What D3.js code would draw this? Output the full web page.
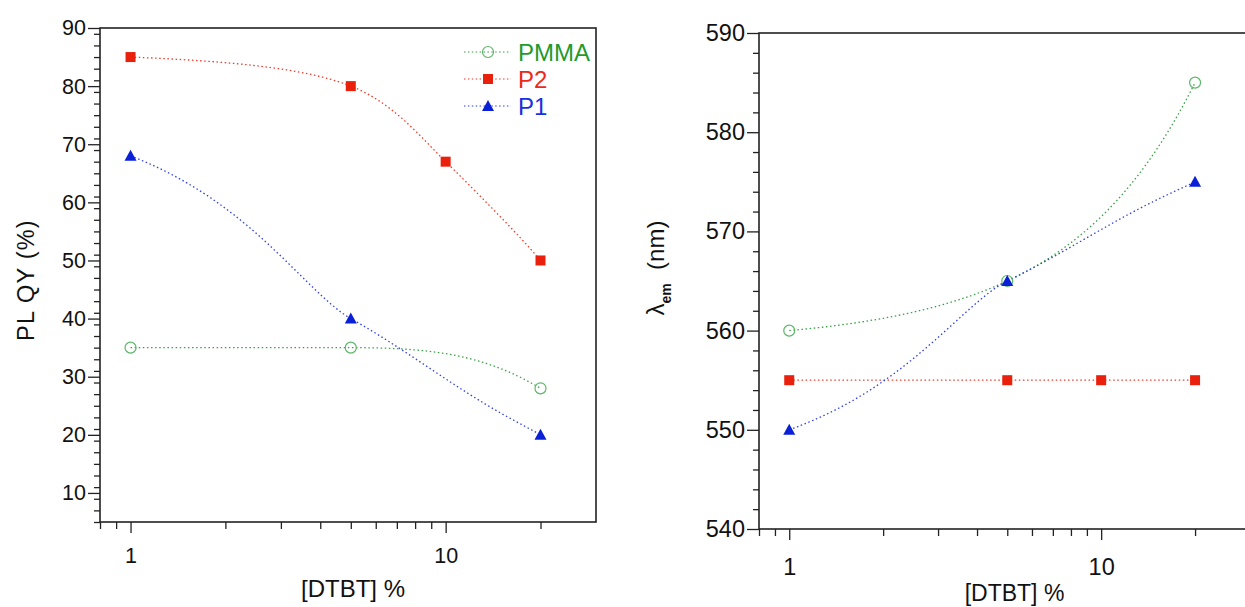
<!DOCTYPE html>
<html><head><meta charset="utf-8">
<script src="https://cdn.jsdelivr.net/npm/d3@7"></script>
<style>body{margin:0;background:#fff}svg{display:block}text{font-family:"Liberation Sans",Arial,sans-serif}</style>
</head><body>
<svg id="c" width="1245" height="607"></svg>
<script>
// ---- data ----
const seriesNames = ["PMMA", "P2", "P1"];
const qyPMMA_x = [1, 5, 20];       const qyPMMA_y = [35, 35, 28];
const qyP2_x   = [1, 5, 10, 20];   const qyP2_y   = [85, 80, 67, 50];
const qyP1_x   = [1, 5, 20];       const qyP1_y   = [68, 40, 20];
const emPMMA_x = [1, 5, 20];       const emPMMA_y = [560, 565, 585];
const emP2_x   = [1, 5, 10, 20];   const emP2_y   = [555, 555, 555, 555];
const emP1_x   = [1, 5, 20];       const emP1_y   = [550, 565, 575];
const xTickLabels = [1, 10];
const qyYTicks = [10, 20, 30, 40, 50, 60, 70, 80, 90];
const emYTicks = [540, 550, 560, 570, 580, 590];

const colors = {PMMA: {line: "#3aa048", mark: "#5cb868", text: "#1f9a2e"},
                P2: {line: "#f03a2a", mark: "#e8200c", text: "#ec2a16"},
                P1: {line: "#3040e8", mark: "#0a20d8", text: "#1a30e0"}};

const svg = d3.select("#c");
const zip = (xs, ys) => xs.map((x, i) => ({x, y: ys[i]}));

// monotone cubic (same rule as d3.curveMonotoneX) evaluated in linear data-x space
function smoothPoints(pts, n) {
  const k = pts.length, m = new Array(k);
  const sl = i => (pts[i + 1].y - pts[i].y) / (pts[i + 1].x - pts[i].x);
  for (let i = 1; i < k - 1; i++) {
    const h0 = pts[i].x - pts[i - 1].x, h1 = pts[i + 1].x - pts[i].x;
    const s0 = sl(i - 1), s1 = sl(i);
    const p = (s0 * h1 + s1 * h0) / (h0 + h1);
    m[i] = (Math.sign(s0) + Math.sign(s1)) * Math.min(Math.abs(s0), Math.abs(s1), 0.5 * Math.abs(p)) || 0;
  }
  if (k === 2) { m[0] = m[1] = sl(0); }
  else {
    m[0] = (3 * sl(0) - m[1]) / 2;
    m[k - 1] = (3 * sl(k - 2) - m[k - 2]) / 2;
  }
  const out = [];
  for (let i = 0; i < k - 1; i++) {
    const a = pts[i], b = pts[i + 1], h = b.x - a.x;
    for (let j = 0; j <= n; j++) {
      if (i > 0 && j === 0) continue;
      const t = j / n, t2 = t * t, t3 = t2 * t;
      const y = (2*t3 - 3*t2 + 1) * a.y + (t3 - 2*t2 + t) * h * m[i] + (-2*t3 + 3*t2) * b.y + (t3 - t2) * h * m[i + 1];
      out.push({x: a.x + t * h, y});
    }
  }
  return out;
}

function styleText(sel, size) {
  return sel.attr("font-size", size).attr("fill", "#111")
    .attr("font-family", '"Liberation Sans", Arial, sans-serif');
}

function panel(opt) {
  const g = svg.append("g");
  const x = d3.scaleLog().domain([0.8, 30]).range([opt.left, opt.right]);
  const y = d3.scaleLinear().domain(opt.yDomain).range([opt.bottom, opt.top]);
  g.append("rect").attr("x", opt.left).attr("y", opt.top)
    .attr("width", opt.right - opt.left).attr("height", opt.bottom - opt.top)
    .attr("fill", "none").attr("stroke", "#222").attr("stroke-width", 1.6);
  const minorY = d3.range(opt.yDomain[0], opt.yDomain[1] + 0.01, 2).filter(v => v % 10 !== 0);
  g.append("g").attr("transform", `translate(${opt.left},0)`)
    .call(d3.axisLeft(y).tickValues(minorY).tickSize(6).tickFormat(""))
    .call(a => a.select(".domain").remove())
    .call(a => a.selectAll("line").attr("stroke", "#222").attr("stroke-width", 1.3));
  g.append("g").attr("transform", `translate(${opt.left},0)`)
    .call(d3.axisLeft(y).tickValues(opt.yTicks).tickSize(12).tickPadding(2).tickFormat(d3.format("d")))
    .call(a => a.select(".domain").remove())
    .call(a => a.selectAll("line").attr("stroke", "#222").attr("stroke-width", 1.3))
    .call(a => styleText(a.selectAll("text"), opt.tickFont));
  const minorX = [0.8, 0.9, 2, 3, 4, 5, 6, 7, 8, 9, 20];
  g.append("g").attr("transform", `translate(0,${opt.bottom})`)
    .call(d3.axisBottom(x).tickValues(minorX).tickSize(7).tickFormat(""))
    .call(a => a.select(".domain").remove())
    .call(a => a.selectAll("line").attr("stroke", "#222").attr("stroke-width", 1.3));
  g.append("g").attr("transform", `translate(0,${opt.bottom})`)
    .call(d3.axisBottom(x).tickValues(xTickLabels).tickSize(11).tickPadding(opt.xPad).tickFormat(d3.format("d")))
    .call(a => a.select(".domain").remove())
    .call(a => a.selectAll("line").attr("stroke", "#222").attr("stroke-width", 1.3))
    .call(a => styleText(a.selectAll("text"), opt.tickFont));
  styleText(g.append("text").attr("x", (opt.left + opt.right) / 2 + opt.xLabelDx).attr("y", opt.xLabelY)
    .attr("text-anchor", "middle"), opt.labelFont).text("[DTBT] %");

  const line = d3.line().x(d => x(d.x)).y(d => y(d.y));
  const plot = g.append("g");
  opt.series.forEach(s => {
    const c = colors[s.name];
    const pts = smoothPoints(zip(s.xs, s.ys), 60);
    plot.append("path").datum(pts).attr("d", line).attr("fill", "none")
      .attr("stroke", c.line).attr("stroke-width", 1.3).attr("stroke-dasharray", "1.5,2.6");
  });
  opt.series.forEach(s => {
    drawMarkers(plot, s.name, zip(s.xs, s.ys).map(p => [x(p.x), y(p.y)]));
  });
  return {g, x, y};
}

function drawMarkers(g, name, pts) {
  const c = colors[name];
  pts.forEach(([px, py]) => {
    if (name === "PMMA") {
      g.append("circle").attr("cx", px).attr("cy", py).attr("r", 5.5)
        .attr("fill", "none").attr("stroke", c.mark).attr("stroke-width", 1.2);
    } else if (name === "P2") {
      g.append("rect").attr("x", px - 5).attr("y", py - 5).attr("width", 10).attr("height", 10)
        .attr("fill", c.mark);
    } else {
      g.append("path").attr("transform", `translate(${px},${py})`)
        .attr("d", "M0,-6 L6,5 L-6,5 Z").attr("fill", c.mark);
    }
  });
}

// Left panel
const L = panel({left: 100, right: 596, top: 28, bottom: 522, yDomain: [5, 90], yTicks: qyYTicks,
  tickFont: 21.5, labelFont: 24, xPad: 15, xLabelDx: 5, xLabelY: 597,
  series: [{name: "PMMA", xs: qyPMMA_x, ys: qyPMMA_y},
           {name: "P2", xs: qyP2_x, ys: qyP2_y},
           {name: "P1", xs: qyP1_x, ys: qyP1_y}]});
styleText(L.g.append("text").attr("transform", "translate(34,280) rotate(-90)")
  .attr("text-anchor", "middle").attr("letter-spacing", 1.2), 23.5).text("PL QY (%)");

// Legend
const leg = L.g.append("g");
seriesNames.forEach((n, i) => {
  const ly = 52 + i * 27;
  const c = colors[n];
  leg.append("line").attr("x1", 464).attr("x2", 511).attr("y1", ly).attr("y2", ly)
    .attr("stroke", c.line).attr("stroke-width", 1.2).attr("stroke-dasharray", "1.5,2.4");
  drawMarkers(leg, n, [[488, ly]]);
  leg.append("text").attr("x", 518).attr("y", ly + 8.5).attr("font-size", 24)
    .attr("fill", c.text).text(n);
});

// Right panel
const R = panel({left: 759, right: 1250, top: 33, bottom: 529, yDomain: [540, 590], yTicks: emYTicks,
  tickFont: 23.5, labelFont: 23, xPad: 18, xLabelDx: 10, xLabelY: 601,
  series: [{name: "PMMA", xs: emPMMA_x, ys: emPMMA_y},
           {name: "P2", xs: emP2_x, ys: emP2_y},
           {name: "P1", xs: emP1_x, ys: emP1_y}]});
const yl = styleText(R.g.append("text").attr("transform", "translate(664,268) rotate(-90)")
  .attr("text-anchor", "middle"), 24);
yl.append("tspan").text("λ");
yl.append("tspan").attr("font-size", 14).attr("font-weight", "bold").attr("dy", 7).text("em");
yl.append("tspan").attr("dy", -7).text("\u00a0\u00a0(nm)");
</script>
</body></html>
